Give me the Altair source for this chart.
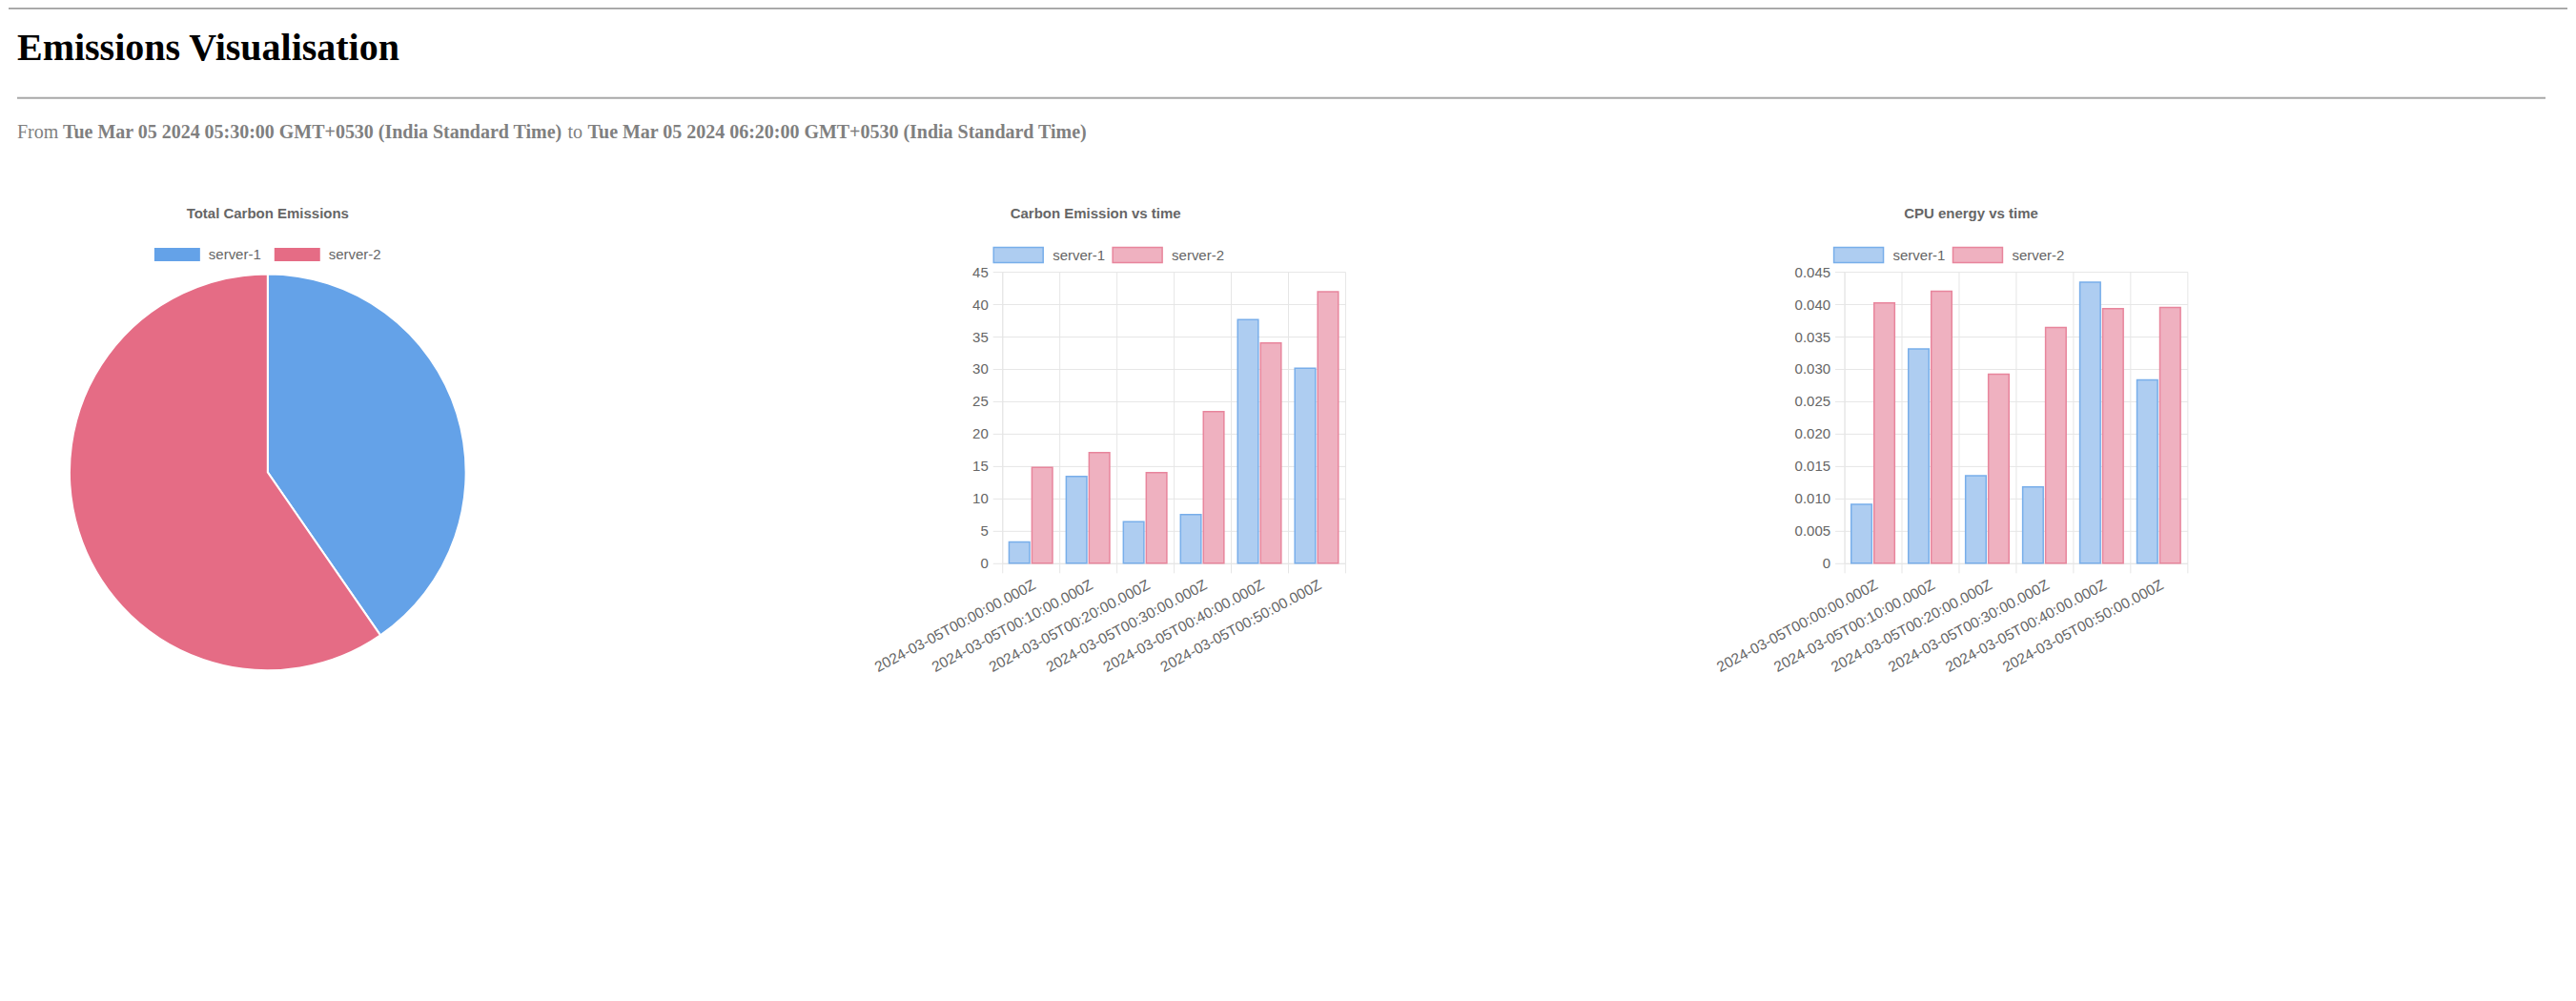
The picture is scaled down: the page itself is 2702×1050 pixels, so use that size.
import altair as alt
import pandas as pd

# ---------------- data ----------------
times = [
    "2024-03-05T00:00:00.000Z",
    "2024-03-05T00:10:00.000Z",
    "2024-03-05T00:20:00.000Z",
    "2024-03-05T00:30:00.000Z",
    "2024-03-05T00:40:00.000Z",
    "2024-03-05T00:50:00.000Z",
]
servers = ["server-1", "server-2"]
carbon_s1 = [3.3, 13.4, 6.4, 7.5, 37.6, 30.1]
carbon_s2 = [14.8, 17.1, 14.0, 23.4, 34.0, 41.9]
cpu_s1 = [0.0091, 0.0331, 0.0135, 0.0118, 0.0434, 0.0283]
cpu_s2 = [0.0402, 0.0420, 0.0292, 0.0364, 0.0393, 0.0395]

carbon_ticks = [0, 5, 10, 15, 20, 25, 30, 35, 40, 45]
cpu_ticks = [0, 0.005, 0.01, 0.015, 0.02, 0.025, 0.03, 0.035, 0.04, 0.045]

page_title = "Emissions Visualisation"
range_from = "Tue Mar 05 2024 05:30:00 GMT+0530 (India Standard Time)"
range_to = "Tue Mar 05 2024 06:20:00 GMT+0530 (India Standard Time)"
pie_title = "Total Carbon Emissions"
carbon_title = "Carbon Emission vs time"
cpu_title = "CPU energy vs time"

rows = []
for i, t in enumerate(times):
    rows.append({"time": t, "server": servers[0], "carbon": carbon_s1[i], "cpu": cpu_s1[i]})
    rows.append({"time": t, "server": servers[1], "carbon": carbon_s2[i], "cpu": cpu_s2[i]})
df = pd.DataFrame(rows)

# ---------------- style ----------------
SANS = "Liberation Sans"
SERIF = "Liberation Serif"
TXT = "#666666"
GRID = "#e6e6e6"
pie_colors = ["#64a2e8", "#e56c85"]
bar_fill = ["#aecdf1", "#efb1c0"]
bar_stroke = ["#78aeea", "#e8859c"]

box_bar = "M-1,-0.3077L1,-0.3077L1,0.3077L-1,0.3077Z"
box_pie = "M-1,-0.2917L1,-0.2917L1,0.2917L-1,0.2917Z"

blank = alt.Data(values=[{}])

# ---------------- header ----------------
def htext(x, y, text, size, weight, color):
    return alt.Chart(blank).mark_text(
        align="left", baseline="alphabetic", font=SERIF, fontSize=size,
        fontWeight=weight, color=color
    ).encode(x=alt.value(x), y=alt.value(y), text=alt.value(text))

top_line = alt.Chart(blank).mark_rule(color="#7a7a7a", strokeWidth=1.2).encode(
    x=alt.value(0), x2=alt.value(2686), y=alt.value(0.6))
hr = alt.Chart(blank).mark_rule(color="#a8a8a8", strokeWidth=2).encode(
    x=alt.value(9), x2=alt.value(2663), y=alt.value(94.5))

header = alt.layer(
    top_line,
    htext(9, 55, page_title, 40, "bold", "#000000"),
    hr,
    htext(9, 137, "From", 20, "normal", "#808080"),
    htext(57, 137, range_from, 20, "bold", "#808080"),
    htext(587, 137, "to", 20, "normal", "#808080"),
    htext(608, 137, range_to, 20, "bold", "#808080"),
).properties(width=2680, height=267)

# ---------------- pie ----------------
pie = alt.Chart(df).mark_arc(outerRadius=208, stroke="white", strokeWidth=2).encode(
    theta=alt.Theta("sum(carbon):Q", stack=True),
    color=alt.Color(
        "server:N",
        sort=servers,
        scale=alt.Scale(domain=servers, range=pie_colors),
        legend=alt.Legend(
            orient="none", legendX=153, legendY=-42, direction="horizontal",
            title=None, symbolType=box_pie, symbolSize=2304, symbolStrokeWidth=0,
            symbolOpacity=1, labelFont=SANS, labelFontSize=15, labelColor=TXT,
            labelOffset=9, columnPadding=13, padding=0,
        ),
    ),
    order=alt.Order("server:N", sort="ascending"),
).properties(
    width=544, height=421,
    title=alt.TitleParams(pie_title, anchor="middle", font=SANS, fontSize=15,
                          fontWeight="bold", color=TXT, offset=11),
)

# ---------------- bars ----------------
def bar_chart(field, title, ymax, ticks, label_expr, leg_x, title_dx):
    legend = alt.Legend(
        orient="none", legendX=leg_x, legendY=-45, direction="horizontal",
        title=None, symbolType=box_bar, symbolSize=2704, symbolStrokeWidth=1.5,
        labelFont=SANS, labelFontSize=15, labelColor=TXT,
        labelOffset=9, columnPadding=4, padding=0,
    )
    return alt.Chart(df).mark_bar(strokeWidth=1.5).encode(
        x=alt.X(
            "time:N", sort=times,
            scale=alt.Scale(paddingInner=0, paddingOuter=0),
            axis=alt.Axis(
                title=None, labelAngle=-28, labelAlign="right", labelBaseline="top",
                labelFont=SANS, labelFontSize=15.5, labelColor=TXT, labelPadding=5,
                labelLimit=0, labelOverlap=False,
                tickBand="extent", grid=True, gridColor=GRID, ticks=True,
                tickColor=GRID, tickSize=10, domainColor=GRID,
            ),
        ),
        xOffset=alt.XOffset(
            "server:N", sort=servers,
            scale=alt.Scale(domain=servers, paddingInner=0.1, paddingOuter=0.3),
        ),
        y=alt.Y(
            f"{field}:Q",
            scale=alt.Scale(domain=[0, ymax], nice=False),
            axis=alt.Axis(
                title=None, values=ticks, labelExpr=label_expr,
                labelFont=SANS, labelFontSize=15, labelColor=TXT, labelPadding=5,
                grid=True, gridColor=GRID, ticks=True, tickColor=GRID, tickSize=10,
                domainColor=GRID,
            ),
        ),
        fill=alt.Fill("server:N", sort=servers,
                      scale=alt.Scale(domain=servers, range=bar_fill), legend=legend),
        stroke=alt.Stroke("server:N", sort=servers,
                          scale=alt.Scale(domain=servers, range=bar_stroke), legend=legend),
    ).properties(
        width=360, height=306,
        title=alt.TitleParams(title, anchor="middle", font=SANS, fontSize=15,
                              fontWeight="bold", color=TXT, offset=8, dx=title_dx),
    )

carbon = bar_chart("carbon", carbon_title, 45, carbon_ticks,
                   "format(datum.value, 'd')", -10, -82)
cpu = bar_chart("cpu", cpu_title, 0.045, cpu_ticks,
                "datum.value == 0 ? '0' : format(datum.value, '.3f')", -12, -47)

bars = alt.hconcat(carbon, cpu, spacing=524, bounds="flush").resolve_scale(
    fill="independent", stroke="independent", x="independent", y="independent"
).resolve_legend(fill="independent", stroke="independent")

row = alt.hconcat(pie, bars, spacing=499, bounds="flush").resolve_scale(
    color="independent", fill="independent", stroke="independent"
).resolve_legend(color="independent", fill="independent", stroke="independent")

chart = alt.vconcat(header, row, spacing=10, bounds="flush").properties(
    padding=0
).configure_view(strokeWidth=0).resolve_scale(
    color="independent", fill="independent", stroke="independent"
).resolve_legend(color="independent", fill="independent", stroke="independent")

chart.save("out.html", embed_options={"renderer": "svg", "actions": False})
